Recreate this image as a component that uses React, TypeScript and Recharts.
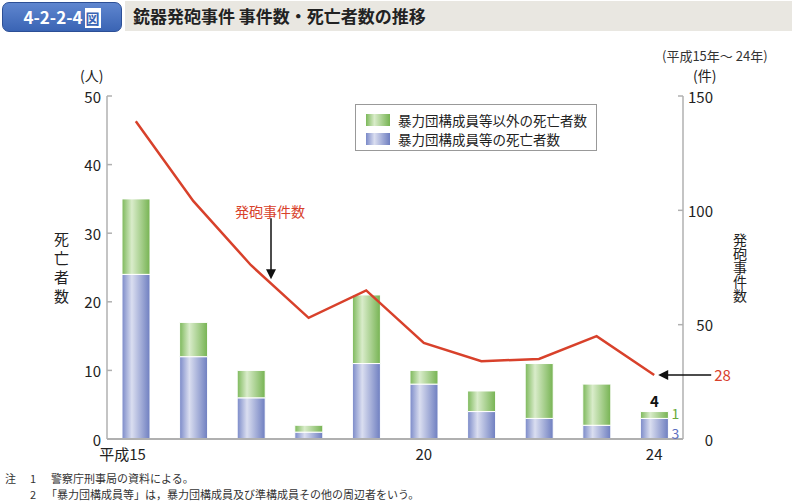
import { ComposedChart, Bar, Line, XAxis, YAxis, LabelList } from 'recharts'

const years = ['15', '16', '17', '18', '19', '20', '21', '22', '23', '24']
const gangDeaths = [24, 12, 6, 1, 11, 8, 4, 3, 2, 3]
const otherDeaths = [11, 5, 4, 1, 10, 2, 3, 8, 6, 1]
const incidents = [139, 104, 76, 53, 65, 42, 34, 35, 45, 28]
const yearLabels: Record<string, string> = { '15': '平成15', '20': '20', '24': '24' }
const leftTicks = [0, 10, 20, 30, 40, 50]
const rightTicks = [0, 50, 100, 150]

const data = years.map((y, i) => ({
    year: y,
    gang: gangDeaths[i],
    other: otherDeaths[i],
    incidents: incidents[i],
}))

const FONT = '"Noto Sans CJK JP", "Noto Sans", sans-serif'
const PLOT_LEFT = 107
const PLOT_RIGHT = 683
const AXIS_W = 40
const AXIS_GRAY = '#b0b0b0'
const RED = '#d8412b'
const GREEN_TXT = '#6aaa3c'
const BLUE_TXT = '#5c6fc0'

const LeftTick = ({ y, payload }: any) => (
    <g>
        <line x1={PLOT_LEFT} x2={PLOT_LEFT + 5} y1={y} y2={y} stroke={AXIS_GRAY} strokeWidth={1.5} />
        <text x={PLOT_LEFT - 6} y={y} textAnchor="end" dominantBaseline="central" fontSize={15} fill="#222" fontFamily={FONT}>
            {payload.value}
        </text>
    </g>
)

const RightTick = ({ y, payload }: any) => (
    <g>
        <line x1={PLOT_RIGHT - 5} x2={PLOT_RIGHT} y1={y} y2={y} stroke={AXIS_GRAY} strokeWidth={1.5} />
        <text x={713} y={y} textAnchor="end" dominantBaseline="central" fontSize={15} fill="#222" fontFamily={FONT}>
            {payload.value}
        </text>
    </g>
)

const YearTick = ({ x, payload }: any) => {
    const label = yearLabels[payload.value]
    if (!label) return null
    const first = payload.value === '15'
    return (
        <text x={first ? x + 10 : x} y={453} textAnchor={first ? 'end' : 'middle'} dominantBaseline="central"
            fontSize={15} fill="#222" fontFamily={FONT}>
            {label}
        </text>
    )
}

const LineNotes = (props: any) => {
    const { x, y, index, value } = props
    if (index === 2) {
        const ax = x + 20
        return (
            <g>
                <text x={ax - 1} y={y - 54} textAnchor="middle" dominantBaseline="central" fontSize={14} fill={RED} fontFamily={FONT}>発砲事件数</text>
                <line x1={ax} x2={ax} y1={y - 47} y2={y + 6} stroke="#111" strokeWidth={1.5} />
                <path d={`M${ax - 5},${y + 4} L${ax + 5},${y + 4} L${ax},${y + 14} Z`} fill="#111" />
            </g>
        )
    }
    if (index === years.length - 1) {
        return (
            <g>
                <line x1={x + 12} x2={x + 57} y1={y} y2={y} stroke="#111" strokeWidth={1.5} />
                <path d={`M${x + 4},${y} L${x + 14},${y - 5} L${x + 14},${y + 5} Z`} fill="#111" />
                <text x={x + 60} y={y} dominantBaseline="central" fontSize={15} fill={RED} fontFamily={FONT}>{value}</text>
            </g>
        )
    }
    return null
}

const GangNote = (props: any) => {
    const { x, y, width, height, index } = props
    if (index !== years.length - 1) return null
    return (
        <text x={x + width + 3} y={y + height / 2 + 4} dominantBaseline="central" fontSize={14} fill={BLUE_TXT} fontFamily={FONT}>
            {gangDeaths[index]}
        </text>
    )
}

const OtherNote = (props: any) => {
    const { x, y, width, height, index } = props
    if (index !== years.length - 1) return null
    return (
        <g>
            <text x={x + width + 3} y={y + height / 2 - 2} dominantBaseline="central" fontSize={14} fill={GREEN_TXT} fontFamily={FONT}>
                {otherDeaths[index]}
            </text>
            <text x={x + width / 2} y={y - 11} textAnchor="middle" dominantBaseline="central" fontSize={15} fontWeight={700} fill="#111" fontFamily={FONT}>
                {gangDeaths[index] + otherDeaths[index]}
            </text>
        </g>
    )
}

const abs = (s: any) => ({ position: 'absolute' as const, fontFamily: FONT, whiteSpace: 'nowrap' as const, ...s })

export default function App() {
    return (
        <div style={{ position: 'absolute', left: 0, top: 0, width: 792, height: 503, background: '#fff', overflow: 'hidden' }}>
            {/* header */}
            <div style={abs({ left: 125, top: 1, width: 667, height: 30, background: '#e9e7e1' })} />
            <div style={abs({
                left: 2, top: 2, width: 118, height: 28, borderRadius: 7,
                background: 'linear-gradient(#5f86cf, #3a64b4)', border: '1px solid #2c4f96',
                color: '#fff', fontWeight: 700, fontSize: 17, lineHeight: '28px', textAlign: 'center',
            })}>
                4-2-2-4<span style={{ background: '#fff', color: '#3a64b4', fontSize: 14, padding: '0 1px', marginLeft: 2 }}>図</span>
            </div>
            <div style={abs({ left: 133, top: 2, fontSize: 17, fontWeight: 700, lineHeight: '28px', color: '#222' })}>
                銃器発砲事件 事件数・死亡者数の推移
            </div>
            <div style={abs({ left: 662, top: 46, fontSize: 13, color: '#333' })}>(平成15年～ 24年)</div>

            <ComposedChart width={792} height={503} data={data}
                margin={{ top: 96, right: 792 - PLOT_RIGHT - AXIS_W, left: PLOT_LEFT - AXIS_W, bottom: 64 - 30 }}
                barCategoryGap={0} style={{ position: 'absolute', left: 0, top: 0 }}>
                <defs>
                    <linearGradient id="gGreen" x1="0" y1="0" x2="1" y2="0">
                        <stop offset="0%" stopColor="#7cb85a" />
                        <stop offset="35%" stopColor="#d9ecca" />
                        <stop offset="100%" stopColor="#76b352" />
                    </linearGradient>
                    <linearGradient id="gBlue" x1="0" y1="0" x2="1" y2="0">
                        <stop offset="0%" stopColor="#7a89c8" />
                        <stop offset="35%" stopColor="#dadef0" />
                        <stop offset="100%" stopColor="#6e7ec0" />
                    </linearGradient>
                </defs>
                <XAxis dataKey="year" height={30} tickLine={false} interval={0}
                    axisLine={{ stroke: AXIS_GRAY, strokeWidth: 2 }} tick={<YearTick />} />
                <YAxis yAxisId="left" width={AXIS_W} domain={[0, 50]} ticks={leftTicks} tickLine={false}
                    axisLine={{ stroke: AXIS_GRAY, strokeWidth: 1.5 }} tick={<LeftTick />} />
                <YAxis yAxisId="right" orientation="right" width={AXIS_W} domain={[0, 150]} ticks={rightTicks} tickLine={false}
                    axisLine={{ stroke: AXIS_GRAY, strokeWidth: 1.5 }} tick={<RightTick />} />
                <Bar yAxisId="left" dataKey="gang" stackId="d" barSize={28} fill="url(#gBlue)" stroke="#fff" strokeWidth={1} isAnimationActive={false}>
                    <LabelList content={<GangNote />} />
                </Bar>
                <Bar yAxisId="left" dataKey="other" stackId="d" barSize={28} fill="url(#gGreen)" stroke="#fff" strokeWidth={1} isAnimationActive={false}>
                    <LabelList content={<OtherNote />} />
                </Bar>
                <Line yAxisId="right" dataKey="incidents" type="linear" stroke={RED} strokeWidth={2.5} dot={false} isAnimationActive={false}>
                    <LabelList content={<LineNotes />} />
                </Line>
            </ComposedChart>

            {/* axis captions */}
            <div style={abs({ left: 80, top: 65, fontSize: 14, color: '#222' })}>(人)</div>
            <div style={abs({ left: 693, top: 65, fontSize: 14, color: '#222' })}>(件)</div>
            <div style={abs({ left: 52, top: 232, fontSize: 15, lineHeight: '18px', writingMode: 'vertical-rl', letterSpacing: 4, color: '#222' })}>
                死亡者数
            </div>
            <div style={abs({ left: 733, top: 233, fontSize: 14, lineHeight: '14px', writingMode: 'vertical-rl', letterSpacing: 0, color: '#222' })}>
                発砲事件数
            </div>

            {/* legend */}
            <div style={abs({ left: 355, top: 104, width: 240, height: 45, border: '1px solid #999', background: '#fff', fontSize: 13.5, color: '#222' })}>
                <div style={{ position: 'absolute', left: 10, top: 5, display: 'flex', alignItems: 'center' }}>
                    <span style={{ width: 24, height: 12, marginRight: 8, background: 'linear-gradient(90deg,#7cb85a,#d9ecca 35%,#76b352)' }} />
                    暴力団構成員等以外の死亡者数
                </div>
                <div style={{ position: 'absolute', left: 10, top: 24, display: 'flex', alignItems: 'center' }}>
                    <span style={{ width: 24, height: 12, marginRight: 8, background: 'linear-gradient(90deg,#7a89c8,#dadef0 35%,#6e7ec0)' }} />
                    暴力団構成員等の死亡者数
                </div>
            </div>

            {/* notes */}
            <div style={abs({ left: 5, top: 470, fontSize: 11, color: '#333' })}>注</div>
            <div style={abs({ left: 30, top: 470, fontSize: 11, color: '#333' })}>1</div>
            <div style={abs({ left: 51, top: 470, fontSize: 11, color: '#333' })}>警察庁刑事局の資料による。</div>
            <div style={abs({ left: 30, top: 486, fontSize: 11, color: '#333' })}>2</div>
            <div style={abs({ left: 46, top: 486, fontSize: 11, color: '#333' })}>「暴力団構成員等」は，暴力団構成員及び準構成員その他の周辺者をいう。</div>
        </div>
    )
}
